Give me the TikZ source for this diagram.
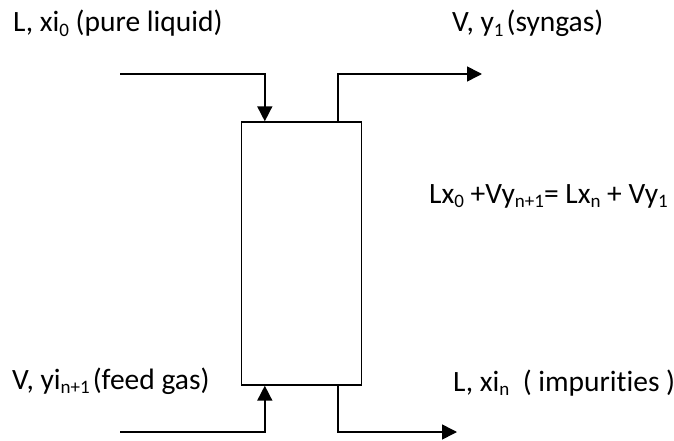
\documentclass[tikz,border=0pt]{standalone}
\usepackage{fontspec}
\setmainfont{Carlito}[Ligatures={NoCommon}]
\usetikzlibrary{positioning,arrows.meta,calc}
\tikzset{
column/.style={
draw,
line width=1.4pt,
minimum width=120pt,
minimum height=263pt,
inner sep=0pt
},
stream/.style={
-{Triangle[length=15pt,width=15pt]},
line width=1.6pt
},
label/.style={
anchor=base west,
inner sep=0pt,
font=\fontsize{29.5}{35}\selectfont
}
}
\newcommand\lowidx[1]{\raisebox{-.35ex}{\fontsize{19}{21}\selectfont #1}}

\begin{document}
\begin{tikzpicture}[x=1pt,y=-1pt]
\useasboundingbox (0,0) rectangle (674,441);
\node[column](col) at (301.5,253.5){};

% free ends of the streams
\coordinate (liqin) at (120,74);
\coordinate (gasout) at (482,74);
\coordinate (gasin) at (120,432);
\coordinate (liqout) at (457,432);

\draw[stream](liqin) -| ($(col.north west)+(24,0)$);
\draw[stream]($(col.north east)+(-24,0)$) |- (gasout);
\draw[stream](gasin) -| ($(col.south west)+(24,0)$);
\draw[stream]($(col.south east)+(-24,0)$) |- (liqout);

\node[label](liqlbl) at (13,32){L, xi\lowidx{0} (pure liquid)};
\node[label](gaslbl) at (452,32){V, y\lowidx{1}\hspace{3pt}(syngas)};
\node[label](bal) at (429,203){Lx\lowidx{0} +Vy\lowidx{n+1}= Lx\lowidx{n} + Vy\lowidx{1}};
\node[label](feedlbl) at (12,389){V, yi\lowidx{n+1}\hspace{3pt}(feed gas)};
\node[label](implbl) at (453,391){L, xi\lowidx{n}\ \ ( impurities )};
\end{tikzpicture}
\end{document}
